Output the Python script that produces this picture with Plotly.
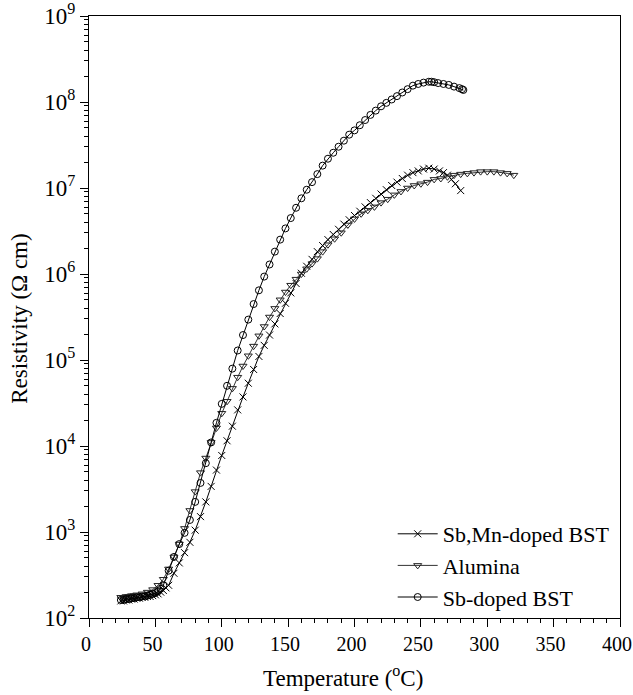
import plotly.graph_objects as go

# Sb,Mn-doped BST (crosses)
t_sbmn = [24, 26, 28, 30, 32, 34, 36, 38, 40, 42, 44, 46, 48, 50, 52, 54, 56, 58, 60,
          64, 68, 72, 76, 80, 84, 88, 92, 96, 100, 104, 108, 112, 116, 120, 124, 128,
          132, 136, 140, 144, 148, 152, 156, 160, 164, 168, 172, 176, 180, 184, 188,
          192, 196, 200, 204, 208, 212, 216, 220, 224, 228, 232, 236, 240, 244, 248,
          252, 256, 260, 264, 267, 270, 273, 276, 280]
r_sbmn = [158, 158, 162, 162, 166, 166, 170, 170, 174, 174, 178, 178, 182, 186, 191, 200, 209, 224, 240,
          331, 437, 575, 759, 1050, 1510, 2240, 3390, 5250, 7760, 1.15e4, 1.70e4, 2.63e4, 3.72e4, 5.37e4, 7.76e4, 1.10e5,
          1.48e5, 1.95e5, 2.63e5, 3.47e5, 4.57e5, 6.03e5, 7.76e5, 1.02e6, 1.23e6, 1.48e6, 1.82e6, 2.14e6, 2.51e6, 2.88e6, 3.31e6,
          3.80e6, 4.27e6, 4.79e6, 5.37e6, 6.03e6, 6.76e6, 7.59e6, 8.51e6, 9.55e6, 1.07e7, 1.17e7, 1.29e7, 1.41e7, 1.51e7, 1.58e7,
          1.66e7, 1.70e7, 1.66e7, 1.58e7, 1.51e7, 1.41e7, 1.26e7, 1.12e7, 9.33e6]

# Alumina (down triangles)
t_alu = [24, 26, 28, 30, 32, 34, 36, 40, 44, 48, 52, 56, 60, 64, 68, 72, 76, 80, 84, 88,
         92, 96, 100, 104, 108, 112, 116, 120, 124, 128, 132, 136, 140, 144, 148, 152,
         156, 160, 164, 168, 172, 176, 180, 185, 190, 195, 200, 205, 210, 215, 220, 225,
         230, 235, 240, 245, 250, 255, 260, 265, 270, 275, 280, 285, 290, 295, 300, 305,
         310, 315, 320]
r_alu = [174, 174, 178, 178, 182, 182, 186, 191, 200, 214, 240, 282, 372, 513, 724, 1100, 1780, 2950, 4900, 7240,
         1.10e4, 1.62e4, 2.40e4, 3.31e4, 4.68e4, 6.31e4, 8.51e4, 1.12e5, 1.45e5, 1.91e5, 2.45e5, 3.16e5, 3.98e5, 5.01e5, 6.17e5, 7.41e5,
         8.71e5, 1.00e6, 1.15e6, 1.32e6, 1.51e6, 1.82e6, 2.19e6, 2.57e6, 3.02e6, 3.72e6, 4.37e6, 5.01e6, 5.50e6, 6.03e6, 6.76e6, 7.41e6,
         8.32e6, 9.12e6, 1.00e7, 1.07e7, 1.12e7, 1.17e7, 1.26e7, 1.29e7, 1.35e7, 1.41e7, 1.45e7, 1.48e7, 1.51e7, 1.55e7, 1.55e7, 1.55e7,
         1.51e7, 1.48e7, 1.41e7]

# Sb-doped BST (circles)
t_sb = [24, 26, 28, 30, 32, 34, 36, 38, 40, 42, 44, 46, 48, 50, 52, 54, 56, 60, 64, 68,
        72, 76, 80, 84, 88, 92, 96, 100, 104, 108, 112, 116, 120, 124, 128, 132, 136,
        140, 144, 148, 152, 156, 160, 164, 168, 172, 176, 180, 184, 188, 192, 196, 200,
        204, 208, 212, 216, 220, 224, 228, 232, 236, 240, 244, 248, 252, 256, 258, 260,
        263, 267, 271, 275, 279, 281, 282]
r_sb = [162, 162, 166, 166, 170, 170, 174, 174, 178, 178, 182, 186, 191, 195, 204, 219, 240, 355, 513, 724,
        977, 1380, 2240, 3720, 6310, 1.10e4, 1.86e4, 3.09e4, 5.01e4, 7.94e4, 1.29e5, 1.95e5, 2.95e5, 4.47e5, 6.46e5, 9.33e5, 1.29e6,
        1.82e6, 2.51e6, 3.39e6, 4.47e6, 5.89e6, 7.59e6, 9.55e6, 1.17e7, 1.45e7, 1.82e7, 2.19e7, 2.57e7, 3.02e7, 3.55e7, 4.17e7, 4.68e7,
        5.37e7, 6.17e7, 7.08e7, 7.94e7, 8.91e7, 9.77e7, 1.07e8, 1.17e8, 1.29e8, 1.41e8, 1.55e8, 1.62e8, 1.68e8, 1.72e8, 1.72e8, 1.70e8,
        1.66e8, 1.62e8, 1.58e8, 1.51e8, 1.45e8, 1.41e8, 1.38e8]

series_names = ["Sb,Mn-doped BST", "Alumina", "Sb-doped BST"]
x_ticks = [0, 50, 100, 150, 200, 250, 300, 350, 400]
y_exponents = [2, 3, 4, 5, 6, 7, 8, 9]

FONT = "Liberation Serif, Times New Roman, serif"
FS = 23

fig = go.Figure()
fig.add_trace(go.Scatter(
    x=t_sbmn, y=r_sbmn, name=series_names[0], mode="lines+markers",
    line=dict(color="black", width=1),
    marker=dict(symbol="x-thin", size=7, line=dict(color="black", width=1))))
fig.add_trace(go.Scatter(
    x=t_alu, y=r_alu, name=series_names[1], mode="lines+markers",
    line=dict(color="#333333", width=1),
    marker=dict(symbol="triangle-down-open", size=7, color="#222222", line=dict(width=1))))
fig.add_trace(go.Scatter(
    x=t_sb, y=r_sb, name=series_names[2], mode="lines+markers",
    line=dict(color="black", width=1),
    marker=dict(symbol="circle-open", size=7, color="black", line=dict(width=1))))

fig.update_layout(
    width=633, height=695,
    margin=dict(l=89, r=13, t=16, b=77, autoexpand=False),
    paper_bgcolor="white", plot_bgcolor="white",
    font=dict(family=FONT, size=FS, color="black"),
    showlegend=True,
    legend=dict(x=0.99, y=0.0, xanchor="right", yanchor="bottom",
                bgcolor="rgba(0,0,0,0)", font=dict(size=22),
                itemwidth=40, tracegroupgap=0),
    annotations=[
        dict(text="Temperature (<sup>o</sup>C)", xref="paper", yref="paper",
             x=0.478, y=-0.098, xanchor="center", yanchor="middle",
             showarrow=False, font=dict(size=FS)),
        dict(text="Resistivity (Ω cm)", xref="paper", yref="paper",
             x=-0.13, y=0.497, xanchor="center", yanchor="middle", textangle=-90,
             showarrow=False, font=dict(size=FS)),
    ],
)
fig.update_xaxes(
    range=[0, 400], tickvals=x_ticks, ticktext=[str(v) for v in x_ticks],
    ticks="outside", ticklen=8, tickwidth=1, tickcolor="black",
    showline=True, linecolor="black", linewidth=1.2, mirror=True,
    showgrid=False, zeroline=False, automargin=False, ticklabeloverflow="allow",
    ticklabelshift=-3,
    minor=dict(dtick=10, ticks="outside", ticklen=4, tickcolor="black", tickwidth=1, showgrid=False),
    tickfont=dict(size=20),
)
fig.update_yaxes(
    type="log", range=[2, 9],
    tickvals=[10 ** e for e in y_exponents],
    ticktext=["10<sup>%d</sup>" % e for e in y_exponents],
    ticks="outside", ticklen=8, tickwidth=1, tickcolor="black",
    showline=True, linecolor="black", linewidth=1.2, mirror=True,
    showgrid=False, zeroline=False, automargin=False, ticklabeloverflow="allow",
    minor=dict(dtick="D1", ticks="outside", ticklen=4, tickcolor="black", tickwidth=1, showgrid=False),
    tickfont=dict(size=FS),
)

# remove the page's default 8px body margin so the figure sits at the window's corner
fig.write_html("out.html", config={"displayModeBar": False},
               post_script="document.body.style.margin='0';")
